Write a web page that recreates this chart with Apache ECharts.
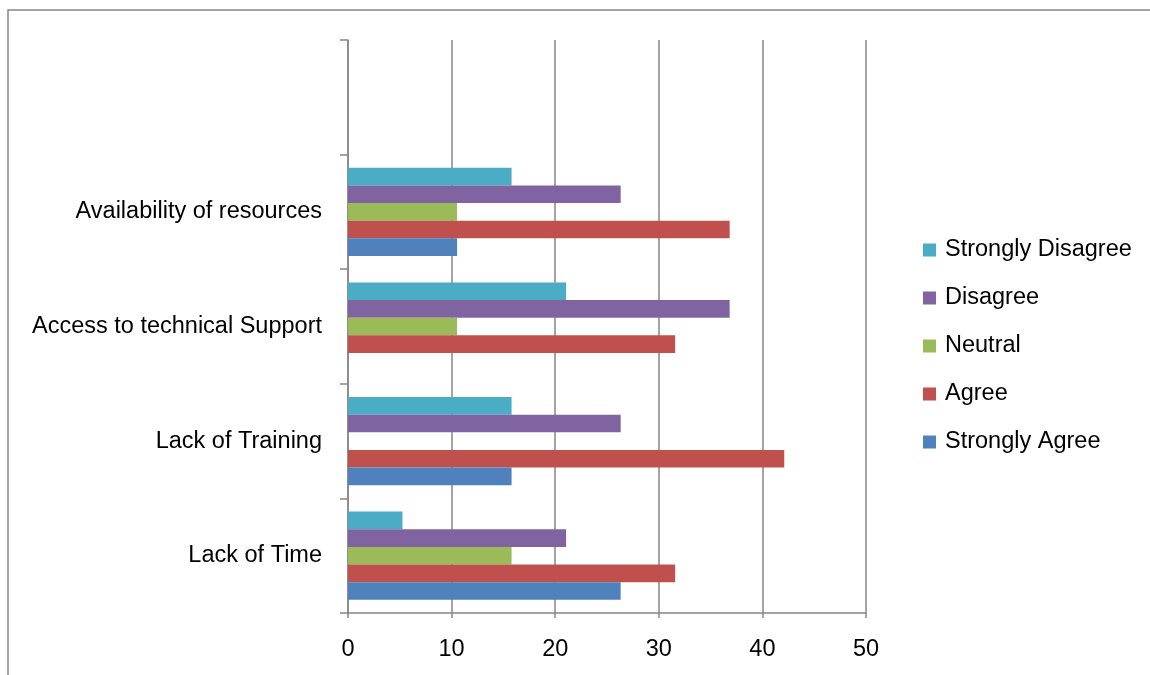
<!DOCTYPE html>
<html>
<head>
<meta charset="utf-8">
<script src="https://cdn.jsdelivr.net/npm/echarts@6/dist/echarts.min.js"></script>
<style>
  html, body { margin: 0; padding: 0; background: #ffffff; }
  #chart { width: 1150px; height: 675px; }
</style>
</head>
<body>
<div id="chart"></div>
<script>
// Barriers, listed bottom to top; the last slot is left empty
const categories = ['Lack of Time', 'Lack of Training', 'Access to technical Support', 'Availability of resources', ''];

// Percent of respondents per response
const stronglyAgree    = [26.32, 15.79, 0,     10.53, null];
const agree            = [31.58, 42.11, 31.58, 36.84, null];
const neutral          = [15.79, 0,     10.53, 10.53, null];
const disagree         = [21.05, 26.32, 36.84, 26.32, null];
const stronglyDisagree = [5.26,  15.79, 21.05, 15.79, null];

// Series run top to bottom inside each group
const seriesNames = ['Strongly Disagree', 'Disagree', 'Neutral', 'Agree', 'Strongly Agree'];
const seriesValues = [stronglyDisagree, disagree, neutral, agree, stronglyAgree];
const seriesColors = ['#4BACC6', '#8064A2', '#9BBB59', '#C0504D', '#4F81BD'];

const xTicks = { min: 0, max: 50, interval: 10 };

const FONT = 'Liberation Sans';
const FONT_SIZE = 23.5;
const GRAY = '#868686';

const chart = echarts.init(document.getElementById('chart'), null, { renderer: 'canvas' });

chart.setOption({
  animation: false,
  backgroundColor: '#ffffff',
  textStyle: { fontFamily: FONT },
  graphic: [{
    type: 'rect',
    shape: { x: 8, y: 10, width: 1160, height: 700 },
    style: { fill: 'none', stroke: GRAY, lineWidth: 1.5 },
    silent: true,
    z: -1
  }],
  grid: { left: 348, right: 284, top: 40, bottom: 62, containLabel: false },
  legend: {
    orient: 'vertical',
    left: 918,
    top: 233,
    data: seriesNames,
    icon: 'rect',
    itemWidth: 13,
    itemHeight: 13,
    itemGap: 24,
    textStyle: { fontFamily: FONT, fontSize: FONT_SIZE, color: '#000000', lineHeight: 24, padding: [0, 0, 0, 4] }
  },
  xAxis: {
    type: 'value',
    min: xTicks.min,
    max: xTicks.max,
    interval: xTicks.interval,
    axisLine: { show: true, lineStyle: { color: GRAY, width: 1.5 } },
    axisTick: { show: true, length: 5, lineStyle: { color: GRAY, width: 1.5 } },
    splitLine: { show: true, lineStyle: { color: GRAY, width: 1.5 } },
    axisLabel: { fontFamily: FONT, fontSize: FONT_SIZE, color: '#000000', margin: 25 }
  },
  yAxis: {
    type: 'category',
    data: categories,
    axisLine: { show: true, lineStyle: { color: GRAY, width: 1.5 } },
    axisTick: { show: true, length: 8, alignWithLabel: false, lineStyle: { color: GRAY, width: 1.5 } },
    axisLabel: { fontFamily: FONT, fontSize: FONT_SIZE, color: '#000000', margin: 26 },
    splitLine: { show: false }
  },
  series: seriesNames.map((name, i) => ({
    name: name,
    type: 'bar',
    data: seriesValues[i],
    barGap: '0%',
    barCategoryGap: '23%',
    itemStyle: { color: seriesColors[i] }
  }))
});
</script>
</body>
</html>
